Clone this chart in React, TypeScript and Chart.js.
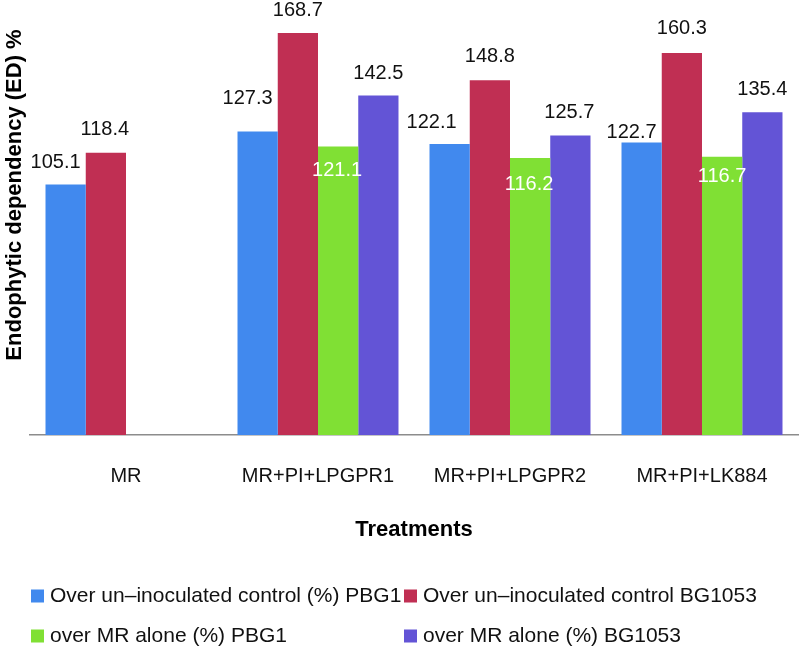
import React, { useEffect, useRef } from "react";
import { Chart, registerables } from "chart.js";

Chart.register(...registerables);

const categories = ["MR", "MR+PI+LPGPR1", "MR+PI+LPGPR2", "MR+PI+LK884"];
const seriesNames = [
  "Over un\u2013inoculated control (%) PBG1",
  "Over un\u2013inoculated control BG1053",
  "over MR alone (%) PBG1",
  "over MR alone (%) BG1053",
];
const overControlPBG1 = [105.1, 127.3, 122.1, 122.7];
const overControlBG1053 = [118.4, 168.7, 148.8, 160.3];
const overMRPBG1 = [null, 121.1, 116.2, 116.7];
const overMRBG1053 = [null, 142.5, 125.7, 135.4];
const colors = ["#4189ee", "#c02f53", "#80e034", "#6354d6"];
const labelColors = ["#111111", "#111111", "#ffffff", "#111111"];

// label placement relative to the bar top (style only)
const labelDX = [
  [-10, -10, -18, -10],
  [-1, 0, 0, 0],
  [0, -1, -1, 0],
  [0, 0, -1, 0],
];
const labelDY = [
  [-22, -33, -22, -10],
  [-23, -22, -24, -24],
  [0, 24, 26, 20],
  [0, -22, -23, -23],
];

const FONT = "'Liberation Sans', Arial, Helvetica, sans-serif";

const barLabelPlugin = {
  id: "barLabels",
  afterDatasetsDraw(chart: any) {
    const ctx = chart.ctx;
    ctx.save();
    ctx.font = `20px ${FONT}`;
    ctx.textAlign = "center";
    ctx.textBaseline = "middle";
    chart.data.datasets.forEach((ds: any, i: number) => {
      const meta = chart.getDatasetMeta(i);
      meta.data.forEach((el: any, j: number) => {
        const v = ds.data[j];
        if (v === null || v === undefined) return;
        ctx.fillStyle = labelColors[i];
        ctx.fillText(v.toFixed(1), el.x + labelDX[i][j], el.y + labelDY[i][j]);
      });
    });
    ctx.restore();
  },
};

const yTitlePlugin = {
  id: "yTitle",
  afterDraw(chart: any) {
    const ctx = chart.ctx;
    ctx.save();
    ctx.translate(15, 195);
    ctx.rotate(-Math.PI / 2);
    ctx.font = `bold 22px ${FONT}`;
    ctx.fillStyle = "#000";
    ctx.textAlign = "center";
    ctx.textBaseline = "middle";
    ctx.fillText("Endophytic dependency (ED) %", 0, 0);
    ctx.restore();
  },
};

const legendPlugin = {
  id: "gridLegend",
  afterDraw(chart: any) {
    const ctx = chart.ctx;
    const colX = [31, 404];
    const rowY = [596, 636];
    ctx.save();
    ctx.font = `21px ${FONT}`;
    ctx.textBaseline = "middle";
    ctx.textAlign = "left";
    chart.data.datasets.forEach((ds: any, i: number) => {
      const x = colX[i % 2];
      const y = rowY[Math.floor(i / 2)];
      ctx.fillStyle = ds.backgroundColor;
      ctx.fillRect(x, y - 6.5, 13, 13);
      ctx.fillStyle = "#111";
      ctx.fillText(ds.label, x + 19, y);
    });
    ctx.restore();
  },
};

export default function App() {
  const ref = useRef<HTMLCanvasElement | null>(null);
  useEffect(() => {
    document.body.style.margin = "0";
    const series = [overControlPBG1, overControlBG1053, overMRPBG1, overMRBG1053];
    const chart = new Chart(ref.current as HTMLCanvasElement, {
      type: "bar",
      data: {
        labels: categories,
        datasets: series.map((d, i) => ({
          label: seriesNames[i],
          data: d as any,
          backgroundColor: colors[i],
          borderWidth: 0,
          categoryPercentage: 0.8385,
          barPercentage: 1.0,
        })),
      },
      options: {
        animation: false,
        responsive: false,
        devicePixelRatio: 1,
        layout: { padding: { left: 30, right: 1, top: 6, bottom: 107.6 } },
        plugins: {
          legend: { display: false },
          tooltip: { enabled: false },
        },
        scales: {
          y: { display: false, min: 0, max: 180 },
          x: {
            grid: { display: false },
            border: { display: true, color: "#8c8c8c", width: 1.5 },
            ticks: {
              font: { size: 20, family: FONT },
              color: "#111",
              padding: 21,
              maxRotation: 0,
            },
            title: {
              display: true,
              text: "Treatments",
              font: { size: 22, weight: "bold", family: FONT },
              color: "#000",
              padding: { top: 8, bottom: 0 },
            },
          },
        },
      },
      plugins: [barLabelPlugin, yTitlePlugin, legendPlugin],
    });
    return () => chart.destroy();
  }, []);
  return (
    <div style={{ width: 799, height: 651 }}>
      <canvas ref={ref} width={799} height={651} style={{ display: "block" }} />
    </div>
  );
}
